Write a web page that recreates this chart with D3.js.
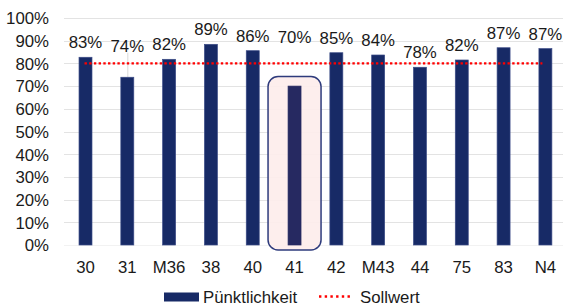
<!DOCTYPE html>
<html>
<head>
<meta charset="utf-8">
<script src="https://cdn.jsdelivr.net/npm/d3@7/dist/d3.min.js"></script>
<style>
  html, body { margin: 0; padding: 0; background: #fff; }
  svg { display: block; font-family: "Liberation Sans", Arial, sans-serif; }
</style>
</head>
<body>
<svg id="chart" width="563" height="307"></svg>
<script>
// ---- data ----
const categories = ["30", "31", "M36", "38", "40", "41", "42", "M43", "44", "75", "83", "N4"];
const punctuality = [0.827, 0.739, 0.818, 0.884, 0.856, 0.700, 0.847, 0.837, 0.783, 0.815, 0.869, 0.865];
const labels = ["83%", "74%", "82%", "89%", "86%", "70%", "85%", "84%", "78%", "82%", "87%", "87%"];
// value level at which each data label is anchored (labels for 31 and 41 moved up)
const labelAnchor = [0.827, 0.812, 0.818, 0.884, 0.856, 0.849, 0.847, 0.837, 0.783, 0.815, 0.869, 0.865];
const target = 0.80;
const yTicks = [0, 0.1, 0.2, 0.3, 0.4, 0.5, 0.6, 0.7, 0.8, 0.9, 1.0];
const highlighted = "41";
const seriesNames = ["Pünktlichkeit", "Sollwert"];

// ---- layout ----
const svg = d3.select("#chart");
const plotLeft = 64.6, plotRight = 566.3, plotTop = 18, plotBottom = 245;
const navy = "#172a66";
const fs = 16.8;

const x = d3.scaleBand().domain(categories).range([plotLeft, plotRight]).paddingInner(0.69).paddingOuter(0.345);
const y = d3.scaleLinear().domain([0, 1]).range([plotBottom, plotTop]);

// gridlines
svg.append("g").selectAll("line").data(yTicks).join("line")
  .attr("x1", 64).attr("x2", 563)
  .attr("y1", d => Math.round(y(d)) + 0.5).attr("y2", d => Math.round(y(d)) + 0.5)
  .attr("stroke", d => d === 0 ? "#f2f2f2" : "#e3e3e3").attr("stroke-width", 1);

// y axis labels
const yAxis = d3.axisLeft(y).tickValues(yTicks).tickFormat(d3.format(".0%")).tickSize(0).tickPadding(0);
const ya = svg.append("g").attr("transform", "translate(49,0)").call(yAxis);
ya.select(".domain").remove();
ya.selectAll("text").attr("font-size", fs).attr("fill", "#1a1a1a")
  .attr("font-family", "'Liberation Sans', Arial, sans-serif").attr("dy", "0.35em");

// highlight box behind bar 41
const hx = x(highlighted) + x.bandwidth() / 2;
svg.append("rect")
  .attr("x", hx - 26.5).attr("y", 76.5)
  .attr("width", 53).attr("height", 173.5)
  .attr("rx", 10).attr("ry", 10)
  .attr("fill", "#fdeceb").attr("fill-opacity", 0.9)
  .attr("stroke", "#2e3b7c").attr("stroke-width", 1.5);

// leader line for label of 31
svg.append("line")
  .attr("x1", x("31") + x.bandwidth() / 2 + 0.5).attr("x2", x("31") + x.bandwidth() / 2 + 0.5)
  .attr("y1", y(labelAnchor[1]) - 8).attr("y2", y(punctuality[1]))
  .attr("stroke", "#d9d9d9").attr("stroke-width", 1);

// bars
svg.append("g").selectAll("rect").data(categories).join("rect")
  .attr("x", d => x(d))
  .attr("y", (d, i) => y(punctuality[i]))
  .attr("width", x.bandwidth())
  .attr("height", (d, i) => y(0) - y(punctuality[i]))
  .attr("fill", d => d === highlighted ? "#262961" : navy)
  .attr("stroke", d => d === highlighted ? "#262961" : "#3b4b86")
  .attr("stroke-width", 0.7);

// target line
svg.append("line")
  .attr("x1", x(categories[0]) + x.bandwidth() / 2 - 1)
  .attr("x2", x(categories[categories.length - 1]) + x.bandwidth() / 2 - 3)
  .attr("y1", y(target)).attr("y2", y(target))
  .attr("stroke", "#ff0000").attr("stroke-width", 2.4)
  .attr("stroke-dasharray", "2.4 2.3");

// data labels
svg.append("g").selectAll("text").data(categories).join("text")
  .attr("x", d => x(d) + x.bandwidth() / 2)
  .attr("y", (d, i) => y(labelAnchor[i]) - 9)
  .attr("text-anchor", "middle")
  .attr("font-size", fs).attr("fill", "#1a1a1a")
  .text((d, i) => labels[i]);

// x axis labels
const xAxis = d3.axisBottom(x).tickSize(0).tickPadding(0);
const xa = svg.append("g").attr("transform", "translate(0,273)").call(xAxis);
xa.select(".domain").remove();
xa.selectAll("text").attr("font-size", fs).attr("fill", "#1a1a1a")
  .attr("font-family", "'Liberation Sans', Arial, sans-serif").attr("dy", null).attr("y", 0);

// legend
const lg = svg.append("g");
lg.append("rect").attr("x", 164).attr("y", 292.5).attr("width", 35).attr("height", 9).attr("fill", navy);
lg.append("text").attr("x", 203).attr("y", 303).attr("font-size", fs).attr("fill", "#1a1a1a").text(seriesNames[0]);
lg.append("line").attr("x1", 319).attr("x2", 353).attr("y1", 296.5).attr("y2", 296.5)
  .attr("stroke", "#ff0000").attr("stroke-width", 2.4).attr("stroke-dasharray", "2.4 3.3");
lg.append("text").attr("x", 360).attr("y", 303).attr("font-size", fs).attr("fill", "#1a1a1a").text(seriesNames[1]);
</script>
</body>
</html>
